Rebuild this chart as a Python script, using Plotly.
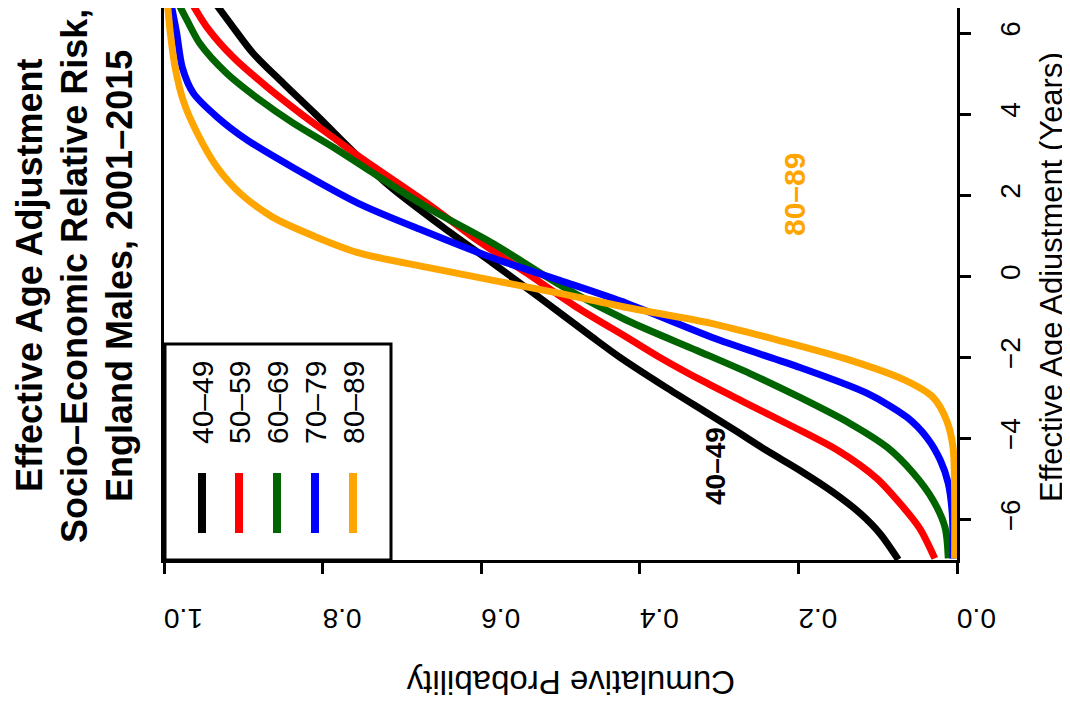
import plotly.graph_objects as go

# ---- data (age adjustment in years, cumulative probability) ----
groups = ["40–49", "50–59", "60–69", "70–79", "80–89"]
colors = ["#000000", "#FF0000", "#006400", "#0000FF", "#FFA500"]

age_4049 = [-6.99, -6.35, -5.85, -5.33, -4.79, -4.30, -3.80, -3.36, -2.74, -2.00, -1.50, -0.59, 0.32, 1.21, 2.30, 4.02, 4.77, 5.51, 6.15, 6.81]
prob_4049 = [0.074, 0.097, 0.122, 0.156, 0.198, 0.240, 0.280, 0.316, 0.367, 0.425, 0.460, 0.522, 0.585, 0.648, 0.720, 0.810, 0.850, 0.888, 0.913, 0.938]

age_5059 = [-6.96, -6.22, -5.60, -4.99, -4.30, -3.70, -3.11, -2.57, -2.02, -1.51, -0.77, 0.07, 0.89, 1.80, 2.94, 3.43, 4.02, 4.67, 5.41, 6.15, 6.81]
prob_5059 = [0.028, 0.047, 0.072, 0.101, 0.150, 0.208, 0.268, 0.322, 0.373, 0.416, 0.479, 0.542, 0.605, 0.668, 0.753, 0.787, 0.828, 0.870, 0.913, 0.946, 0.967]

age_6069 = [-6.96, -6.20, -5.53, -4.86, -4.22, -3.63, -2.99, -2.40, -1.83, -1.09, -0.27, 0.81, 1.70, 2.62, 3.19, 3.78, 4.35, 5.01, 5.75, 6.32, 6.81]
prob_6069 = [0.011, 0.015, 0.030, 0.055, 0.088, 0.135, 0.198, 0.261, 0.328, 0.416, 0.496, 0.585, 0.668, 0.742, 0.787, 0.837, 0.879, 0.921, 0.955, 0.971, 0.984]

age_7079 = [-6.96, -5.85, -5.11, -4.54, -3.98, -3.48, -2.89, -2.25, -1.58, -0.67, -0.10, 0.47, 1.14, 1.80, 2.69, 3.36, 3.93, 4.52, 5.16, 6.00, 6.81]
prob_7079 = [0.005, 0.006, 0.011, 0.021, 0.038, 0.063, 0.113, 0.198, 0.299, 0.416, 0.501, 0.588, 0.675, 0.755, 0.838, 0.895, 0.933, 0.963, 0.977, 0.984, 0.992]

age_8089 = [-6.96, -5.28, -4.22, -3.56, -2.99, -2.57, -2.07, -1.58, -1.16, -0.77, -0.42, -0.10, 0.22, 0.57, 0.96, 1.46, 2.05, 2.69, 3.53, 4.35, 5.16, 6.00, 6.81]
prob_8089 = [0.003, 0.003, 0.005, 0.013, 0.030, 0.065, 0.135, 0.225, 0.310, 0.416, 0.501, 0.585, 0.668, 0.753, 0.807, 0.863, 0.904, 0.933, 0.958, 0.976, 0.986, 0.992, 0.996]

ages = [age_4049, age_5059, age_6069, age_7079, age_8089]
probs = [prob_4049, prob_5059, prob_6069, prob_7079, prob_8089]

x_ticks = [0.0, 0.2, 0.4, 0.6, 0.8, 1.0]
x_ticktext = ["0.0", "0.2", "0.4", "0.6", "0.8", "1.0"]
y_ticks = [-6, -4, -2, 0, 2, 4, 6]
y_ticktext = ["\u22126", "\u22124", "\u22122", "0", "2", "4", "6"]

FONT = "Liberation Sans, Arial, sans-serif"

# ---- layout geometry (screen pixels; page body has an 8px margin) ----
OFF = 8
W, H = 1070 - OFF, 719 - OFF
L, R, T, B = 164, 957, 8, 560          # plot area in screen pixels
pw, ph = R - L, B - T

def px(x):
    return (x - L) / pw

def py(y):
    return (B - y) / ph

fig = go.Figure()
for a, p, c, g in zip(ages, probs, colors, groups):
    fig.add_trace(go.Scatter(x=p, y=a, mode="lines", name=g,
                             line=dict(color=c, width=7, shape="spline", smoothing=0.8),
                             showlegend=False, hoverinfo="skip"))

annotations = []
# title (rotated)
title_lines = ["Effective Age Adjustment", "Socio–Economic Relative Risk,", "England Males, 2001–2015"]
for i, t in enumerate(title_lines):
    annotations.append(dict(text="<b>%s</b>" % t, x=px(29 + 45 * i), y=py(276), xref="paper", yref="paper",
                            showarrow=False, textangle=-90, xanchor="center", yanchor="middle", borderpad=0,
                            font=dict(family=FONT, size=36, color="black")))
# axis titles
annotations.append(dict(text="Cumulative Probability", x=px(571), y=py(683), xref="paper", yref="paper",
                        showarrow=False, textangle=180, xanchor="center", yanchor="middle",
                        font=dict(family=FONT, size=33, color="black")))
annotations.append(dict(text="Effective Age Adjustment (Years)", x=px(1051), y=py(277), xref="paper", yref="paper",
                        showarrow=False, textangle=-90, xanchor="center", yanchor="middle",
                        font=dict(family=FONT, size=31, color="black")))
# curve labels
annotations.append(dict(text="<b>40–49</b>", x=px(715), y=py(466), xref="paper", yref="paper",
                        showarrow=False, textangle=-90, xanchor="center", yanchor="middle",
                        font=dict(family=FONT, size=28, color="black")))
annotations.append(dict(text="<b>80–89</b>", x=px(795), y=py(195), xref="paper", yref="paper",
                        showarrow=False, textangle=-90, xanchor="center", yanchor="middle",
                        font=dict(family=FONT, size=30, color="#FFA500")))

# legend (drawn manually, rotated)
shapes = [dict(type="rect", xref="paper", yref="paper", x0=px(165), x1=px(391), y0=py(560), y1=py(344),
               line=dict(color="black", width=3), fillcolor="white", layer="above")]
leg_x = [202, 239, 277, 315, 353]
for lx, c, g in zip(leg_x, colors, groups):
    shapes.append(dict(type="line", xref="paper", yref="paper", x0=px(lx), x1=px(lx), y0=py(533), y1=py(473),
                       line=dict(color=c, width=8), layer="above"))
    annotations.append(dict(text=g, x=px(lx), y=py(403), xref="paper", yref="paper",
                            showarrow=False, textangle=-90, xanchor="center", yanchor="middle",
                            font=dict(family=FONT, size=30, color="black")))

fig.update_layout(
    width=W, height=H,
    margin=dict(l=L - OFF, r=(W + OFF) - R, t=T - OFF, b=(H + OFF) - B, pad=0),
    paper_bgcolor="white", plot_bgcolor="white",
    font=dict(family=FONT, color="black"),
    annotations=annotations, shapes=shapes,
    showlegend=False,
)
fig.update_xaxes(range=[1, 0], tickvals=x_ticks, ticktext=x_ticktext, tickangle=180,
                 tickfont=dict(size=28, family=FONT), ticks="outside", ticklen=11, tickwidth=3,
                 tickcolor="black", showline=True, linewidth=3, linecolor="black", mirror=False,
                 showgrid=False, zeroline=False, ticklabelstandoff=29)
fig.update_yaxes(range=[-7, 6.62], tickvals=y_ticks, ticktext=y_ticktext, tickangle=-90, side="right",
                 tickfont=dict(size=28, family=FONT), ticks="outside", ticklen=11, tickwidth=3,
                 tickcolor="black", showline=True, linewidth=3, linecolor="black", mirror=True,
                 showgrid=False, zeroline=False, ticklabelstandoff=15)

fig.write_html("out.html")
